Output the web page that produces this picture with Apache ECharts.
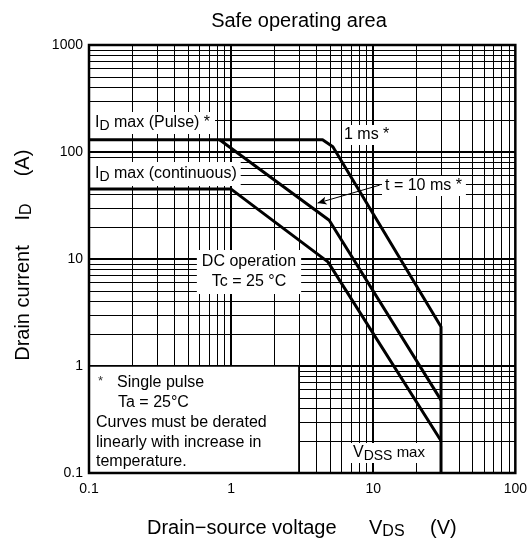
<!DOCTYPE html>
<html><head><meta charset="utf-8">
<script src="https://cdn.jsdelivr.net/npm/echarts@6/dist/echarts.min.js"></script>
<style>html,body{margin:0;padding:0;background:#fff}#c{width:530px;height:543px}</style>
</head><body><div id="c"></div>
<script>
const FONT = '"Liberation Sans", Arial, Helvetica, sans-serif';

// tick labels
const xTickLabels = ['0.1', '1', '10', '100'];
const yTickLabels = ['0.1', '1', '10', '100', '1000'];

// grid lines (log paper)
const xMajorGrid = [1, 10];
const xMinorGrid = [0.2, 0.3, 0.4, 0.5, 0.6, 0.7, 0.8, 0.9, 2, 3, 4, 5, 6, 7, 8, 9, 20, 30, 40, 50, 60, 70, 80, 90];
const yMajorGrid = [1, 10, 100];
const yMinorGrid = [0.2, 0.3, 0.4, 0.5, 0.6, 0.7, 0.8, 0.9, 2, 3, 4, 5, 6, 7, 8, 9, 20, 30, 40, 50, 60, 70, 80, 90, 200, 300, 400, 500, 600, 700, 800, 900];

// SOA curves (V_DS in V, I_D in A)
const pulse1msV = [0.1, 4.4, 5.2, 30, 30];
const pulse1msI = [130, 130, 112, 2.33, 0.1];
const pulse10msV = [0.83, 4.9, 30];
const pulse10msI = [130, 23, 0.48];
const dcV = [0.1, 1, 4.8, 30];
const dcI = [45, 45, 9.4, 0.2];

// arrow pointing at the 10 ms curve
const arrowV = [11.1, 4.06];
const arrowI = [49, 33.3];

// note box extent
const noteBoxV = [0.1, 3];
const noteBoxI = [0.1, 1];

const pairs = (xs, ys) => xs.map((x, i) => [x, ys[i]]);
const vLines = (vals, w) => vals.map(v => ({ xAxis: v, lineStyle: { width: w, color: '#000', type: 'solid' } }));
const hLines = (vals, w) => vals.map(v => ({ yAxis: v, lineStyle: { width: w, color: '#000', type: 'solid' } }));
const decadeLabel = (labels, min) => v => {
  const k = Math.round(Math.log10(v) - Math.log10(min));
  return labels[k] !== undefined ? labels[k] : '';
};

const chart = echarts.init(document.getElementById('c'), null, { renderer: 'canvas' });

const T = (x, y, text, extra) => ({
  type: 'text', x, y, z: 20,
  style: Object.assign({ text, font: '16px ' + FONT, fill: '#000', align: 'left', verticalAlign: 'middle' }, extra || {})
});
const subRich = (main, sub) => ({
  n: { fontSize: main, fontFamily: FONT, lineHeight: main + 4, verticalAlign: 'middle', fill: '#000' },
  s: { fontSize: sub, fontFamily: FONT, lineHeight: sub, verticalAlign: 'bottom', fill: '#000' }
});

const option = {
  animation: false,
  backgroundColor: '#fff',
  grid: { left: 89, top: 45, right: 14, bottom: 70, show: true, borderColor: '#000', borderWidth: 2.5, backgroundColor: 'transparent', z: 30 },
  xAxis: {
    type: 'log', logBase: 10, min: 0.1, max: 100, splitNumber: 3,
    axisLine: { show: false }, axisTick: { show: false }, splitLine: { show: false }, minorTick: { show: false },
    axisLabel: { color: '#000', fontSize: 14, fontFamily: FONT, margin: 9, formatter: decadeLabel(xTickLabels, 0.1) }
  },
  yAxis: {
    type: 'log', logBase: 10, min: 0.1, max: 1000, splitNumber: 4,
    axisLine: { show: false }, axisTick: { show: false }, splitLine: { show: false },
    axisLabel: { color: '#000', fontSize: 14, fontFamily: FONT, margin: 6, formatter: decadeLabel(yTickLabels, 0.1) }
  },
  series: [
    {
      name: 'grid', type: 'line', z: 1, data: [], symbol: 'none', silent: true,
      markLine: {
        z: 1, silent: true, symbol: 'none', label: { show: false }, animation: false,
        data: [].concat(vLines(xMinorGrid, 1), hLines(yMinorGrid, 1), vLines(xMajorGrid, 2), hLines(yMajorGrid, 2))
      }
    },
    {
      name: 'note', type: 'line', z: 2, data: [], symbol: 'none', silent: true,
      markArea: {
        z: 8, silent: true,
        itemStyle: { color: '#fff', borderColor: '#000', borderWidth: 1.5 },
        data: [[{ xAxis: noteBoxV[0], yAxis: noteBoxI[0] }, { xAxis: noteBoxV[1], yAxis: noteBoxI[1] }]]
      }
    },
    { name: '1 ms', type: 'line', z: 6, data: pairs(pulse1msV, pulse1msI), symbol: 'none', lineStyle: { color: '#000', width: 3 }, silent: true },
    { name: '10 ms', type: 'line', z: 6, data: pairs(pulse10msV, pulse10msI), symbol: 'none', lineStyle: { color: '#000', width: 3 }, silent: true },
    { name: 'DC', type: 'line', z: 6, data: pairs(dcV, dcI), symbol: 'none', lineStyle: { color: '#000', width: 3 }, silent: true },
    {
      name: 'arrow', type: 'line', z: 7, data: [], symbol: 'none', silent: true,
      markLine: {
        z: 9, silent: true, symbol: ['none', 'arrow'], symbolSize: [6, 9], label: { show: false },
        lineStyle: { color: '#000', width: 1, type: 'solid' },
        data: [[{ coord: [arrowV[0], arrowI[0]] }, { coord: [arrowV[1], arrowI[1]] }]]
      }
    }
  ],
  graphic: [
    T(299, 21, 'Safe operating area', { font: '20px ' + FONT, align: 'center' }),
    // y axis name
    { type: 'text', x: 23, y: 303, rotation: Math.PI / 2, z: 20, style: { text: 'Drain current', font: '20px ' + FONT, fill: '#000', align: 'center', verticalAlign: 'middle' } },
    { type: 'text', x: 23, y: 212, rotation: Math.PI / 2, z: 20, style: { text: '{n|I}{s|D}', rich: subRich(20, 16), align: 'center', verticalAlign: 'middle' } },
    { type: 'text', x: 23, y: 163, rotation: Math.PI / 2, z: 20, style: { text: '(A)', font: '20px ' + FONT, fill: '#000', align: 'center', verticalAlign: 'middle' } },
    // x axis name
    T(147, 528, 'Drain\u2212source voltage', { font: '20px ' + FONT }),
    { type: 'text', x: 369, y: 528, z: 20, style: { text: '{n|V}{s|DS}', rich: subRich(20, 16), align: 'left', verticalAlign: 'middle' } },
    T(430, 528, '(V)', { font: '20px ' + FONT }),
    // annotations with white background
    { type: 'text', x: 90, y: 123, z: 20, style: { text: '{n|I}{s|D}{n| max (Pulse) *}', rich: subRich(16, 14), align: 'left', verticalAlign: 'middle', backgroundColor: '#fff', padding: [1, 5, 1, 5] } },
    { type: 'text', x: 90, y: 174, z: 20, style: { text: '{n|I}{s|D}{n| max (continuous)}', rich: subRich(16, 14), align: 'left', verticalAlign: 'middle', backgroundColor: '#fff', padding: [2, 4, 2, 5] } },
    T(342, 135, '1 ms *', { backgroundColor: '#fff', padding: [2, 3, 2, 2] }),
    T(382, 186, 't = 10 ms *', { backgroundColor: '#fff', padding: [2, 4, 2, 3] }),
    T(249, 272, 'DC operation\nTc = 25 \u00B0C', { align: 'center', lineHeight: 20, backgroundColor: '#fff', padding: [2, 5, 2, 5] }),
    { type: 'text', x: 348, y: 453, z: 20, style: { text: '{n|V}{s|DSS}{m| max}', rich: Object.assign(subRich(16, 14), { m: { fontSize: 15, fontFamily: FONT, lineHeight: 20, verticalAlign: 'middle', fill: '#000' } }), align: 'left', verticalAlign: 'middle', backgroundColor: '#fff', padding: [0, 8, 0, 5] } },
    // note box text
    T(98, 381, '*', { font: '13px ' + FONT, fill: '#333' }),
    T(117, 383, 'Single pulse'),
    T(118, 403, 'Ta = 25\u00B0C'),
    T(96, 423, 'Curves must be derated'),
    T(96, 443, 'linearly with increase in'),
    T(96, 462, 'temperature.')
  ]
};
chart.setOption(option);
</script>
</body></html>
